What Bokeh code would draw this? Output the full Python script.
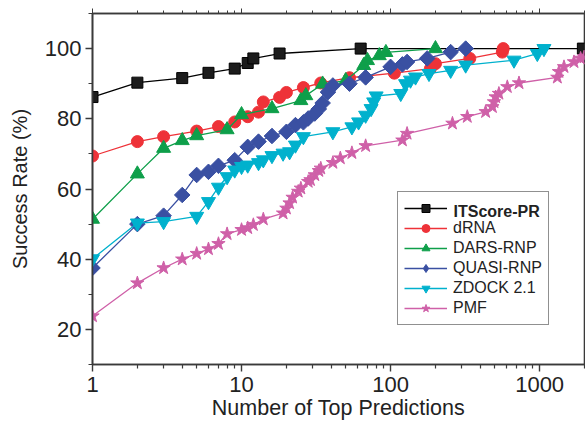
import numpy as np
from bokeh.plotting import figure
from bokeh.models import (Range1d, FixedTicker, NumeralTickFormatter, LogAxis,
                          Legend, LegendItem, Label)
from bokeh.embed import file_html
from bokeh.resources import INLINE

# ---- data ----
itscore_x = [1, 2, 4, 6, 9, 11, 12, 18, 63, 1950]
itscore_y = [86.2, 90.3, 91.6, 93.1, 94.3, 95.9, 97.2, 98.6, 100, 100]

drna_x = [1, 2, 3, 5, 7, 9, 11, 13, 14, 18, 20, 26, 34, 53, 106, 185, 200, 340, 562, 570]
drna_y = [69.4, 73.5, 74.9, 76.5, 77.8, 79.1, 80.6, 81.9, 84.8, 86.1, 87.5, 88.9, 90.2,
          91.7, 93.0, 94.3, 95.7, 97.2, 99.0, 100]

dars_x = [1, 2, 3, 4, 5, 8, 10, 16, 25, 27, 35, 50, 66, 70, 84, 93, 200]
dars_y = [51.4, 64.3, 71.6, 73.8, 75.2, 76.9, 81.2, 82.9, 85.2, 86.6, 89.9, 90.9, 95.2,
          96.6, 98.0, 98.9, 100]

quasi_x = [1, 2, 3, 4, 5, 6, 7, 9, 11, 13, 16, 20, 23, 26, 28, 31, 33, 35, 38, 41, 53,
           68, 100, 120, 129, 176, 253, 319]
quasi_y = [37.5, 50.0, 52.4, 58.3, 64.0, 64.9, 66.6, 68.2, 72.0, 73.5, 75.1, 76.3, 78.2,
           79.0, 80.1, 81.5, 82.8, 84.5, 87.6, 89.5, 90.0, 91.8, 94.8, 95.5, 96.2, 97.2,
           99.0, 100]

zdock_x = [1, 2, 3, 5, 6, 7, 8, 9, 10, 11, 13, 14, 16, 19, 21, 23, 26, 41, 55, 61, 68,
           74, 77, 80, 117, 126, 136, 147, 181, 253, 319, 673, 965, 1069]
zdock_y = [40.1, 50.3, 50.7, 52.2, 56.4, 60.5, 63.5, 65.4, 66.4, 66.8, 67.5, 68.3, 69.5,
           70.2, 70.6, 72.5, 74.9, 76.3, 77.7, 79.1, 81.0, 82.9, 84.8, 86.5, 87.2, 90.0,
           91.0, 91.9, 92.9, 93.8, 95.3, 96.7, 98.6, 100]

pmf_x = [1, 2, 3, 4, 5, 6, 7, 8, 10, 11, 12, 14, 19, 20, 21, 22, 24, 25, 28, 29, 31,
         33, 34, 41, 46, 55, 68, 120, 129, 260, 327, 434, 482, 494, 507, 533, 607, 727,
         1315, 1348, 1457, 1700, 1884, 1990]
pmf_y = [23.8, 33.2, 37.5, 40.0, 41.6, 42.9, 44.4, 47.2, 48.4, 48.9, 49.8, 51.4, 53.1,
         54.5, 56.0, 57.6, 59.3, 60.2, 62.1, 62.6, 64.0, 65.2, 65.9, 67.5, 68.8, 70.3,
         72.3, 73.9, 75.8, 78.7, 80.6, 82.0, 83.4, 84.8, 86.2, 87.2, 89.1, 90.2, 91.8,
         93.4, 94.8, 96.2, 97.2, 97.6]

x_major = [1, 10, 100, 1000]
x_minor = [2, 3, 4, 5, 6, 7, 8, 9, 20, 30, 40, 50, 60, 70, 80, 90,
           200, 300, 400, 500, 600, 700, 800, 900, 2000]
y_major = [20, 40, 60, 80, 100]
y_minor = [10, 30, 50, 70, 90, 110]

FONT = "Liberation Sans"
AXC = "#3a3a3a"

p = figure(width=585, height=422, x_axis_type="log",
           x_range=Range1d(1, 2000), y_range=Range1d(10, 110),
           output_backend="svg", toolbar_location=None,
           min_border_left=92, min_border_right=1, min_border_top=13,
           min_border_bottom=56)
p.xgrid.visible = False
p.ygrid.visible = False
p.outline_line_color = AXC
p.outline_line_width = 1.6
p.background_fill_color = "white"
p.border_fill_color = "white"

xa = p.xaxis[0]
xa.ticker = FixedTicker(ticks=x_major, minor_ticks=x_minor)
xa.formatter = NumeralTickFormatter(format="0")
xa.axis_label = "Number of Top Predictions"
ya = p.yaxis[0]
ya.ticker = FixedTicker(ticks=y_major, minor_ticks=y_minor)
ya.axis_label = "Success Rate (%)"

for ax in (xa, ya):
    ax.axis_line_color = AXC
    ax.axis_line_width = 1.6
    ax.major_tick_line_color = AXC
    ax.minor_tick_line_color = AXC
    ax.major_tick_line_width = 1.4
    ax.minor_tick_line_width = 1.2
    ax.major_tick_in = 0
    ax.minor_tick_in = 0
    ax.major_tick_out = 7
    ax.minor_tick_out = 4
    ax.major_label_text_font = FONT
    ax.major_label_text_font_size = "22px"
    ax.major_label_text_color = "#222222"
    ax.axis_label_text_font = FONT
    ax.axis_label_text_font_style = "normal"
    ax.axis_label_text_color = "#222222"
xa.axis_label_text_font_size = "21.5px"
ya.axis_label_text_font_size = "20px"
xa.major_label_standoff = 5
xa.axis_label_standoff = 1
ya.major_label_standoff = 4
ya.axis_label_standoff = 11

top = LogAxis(ticker=FixedTicker(ticks=x_major, minor_ticks=x_minor),
              major_label_text_font_size="1px", major_label_text_alpha=0.0,
              major_label_standoff=0,
              axis_line_color=AXC, axis_line_width=1.6,
              major_tick_line_color=AXC, minor_tick_line_color=AXC,
              major_tick_in=0, minor_tick_in=0, major_tick_out=5, minor_tick_out=3)
p.add_layout(top, "above")

series = [
    ("ITScore-PR", itscore_x, itscore_y, "#000000", "#1c1c1c", "square", 11, 0.0),
    ("dRNA", drna_x, drna_y, "#ee3238", "#ee3238", "circle", 12, 0.0),
    ("DARS-RNP", dars_x, dars_y, "#0e9f4a", "#0e9f4a", "triangle", 14, 0.0),
    ("QUASI-RNP", quasi_x, quasi_y, "#3a50a2", "#3a50a2", "square", 11, np.pi / 4),
    ("ZDOCK 2.1", zdock_x, zdock_y, "#00b1cd", "#00b1cd", "inverted_triangle", 14, 0.0),
    ("PMF", pmf_x, pmf_y, "#cf60a8", "#cf60a8", "star", 14, 0.0),
]


def no_clip(r):
    try:
        if "clip" in type(r).properties():
            r.clip = False
    except Exception:
        pass


items = []
for name, xs, ys, lc, fc, mk, sz, ang in series:
    lr = p.line(xs, ys, line_color=lc, line_width=1.3)
    sr = p.scatter(xs, ys, marker=mk, size=sz, angle=ang, fill_color=fc,
                   line_color=lc if name != "ITScore-PR" else "#000000", line_width=1)
    no_clip(sr)
    rends = [lr, sr]
    if name == "QUASI-RNP":
        # diamond glyph for the legend key (the plotted marks are rotated squares)
        dr = p.scatter(xs[:1], ys[:1], marker="diamond", size=17, fill_color=fc,
                       line_color=lc, line_width=1)
        dr.visible = False
        rends = [lr, dr]
    items.append(LegendItem(label=" " if name == "ITScore-PR" else name,
                            renderers=rends))

legend = Legend(items=items, location=(305, 39), orientation="vertical",
                label_text_font=FONT, label_text_font_size="16px",
                label_text_color="#222222",
                label_height=20, glyph_height=20, glyph_width=43,
                label_standoff=6, padding=6, spacing=0, margin=0,
                border_line_color="#222222", border_line_width=1.5,
                background_fill_color="white", background_fill_alpha=0.0)
p.add_layout(legend, "center")

bold = Label(x=361, y=153, x_units="screen", y_units="screen", text="ITScore-PR",
             text_font=FONT, text_font_size="16px", text_font_style="bold",
             text_color="#222222", text_baseline="middle", text_align="left",
             level="overlay")
p.add_layout(bold)

open("out.html", "w").write(file_html(p, INLINE))
